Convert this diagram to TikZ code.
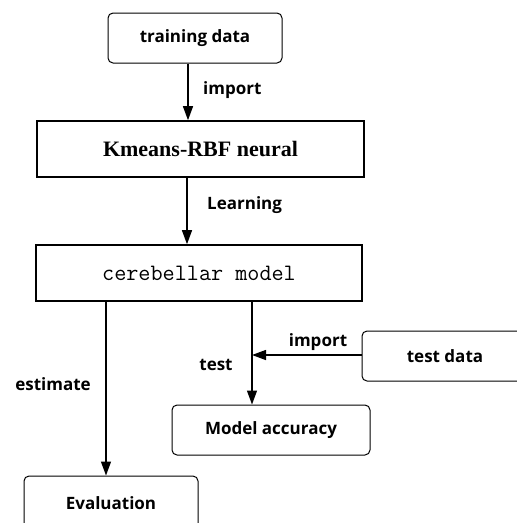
\documentclass[tikz,border=0pt]{standalone}
\usepackage{fontspec}
\setmainfont{Open Sans}
\newfontfamily\serifbf{Liberation Serif}
\usetikzlibrary{arrows.meta}

\tikzset{
  roundbox/.style={draw, line width=1pt, rounded corners=5pt, minimum width=#1, minimum height=50, inner sep=0pt, font=\fontsize{17}{20}\selectfont\bfseries},
  squarebox/.style={draw, line width=1.6pt, minimum width=327, minimum height=56, inner sep=0pt},
  flow/.style={line width=1.3pt, -{Triangle[width=10pt,length=14pt]}},
  lbl/.style={inner sep=0pt, font=\fontsize{17}{20}\selectfont\bfseries}
}

\begin{document}
\begin{tikzpicture}[x=1pt,y=1pt,yscale=-1,xscale=1]
    \useasboundingbox (0,0) rectangle (517,523);
    
    %Shape: Rounded Rect [id:train]
    \node [roundbox=174] (train) at (195,38) {training data};
    %Shape: Rectangle [id:kmeans]
    \node [squarebox, font=\fontsize{22}{26}\selectfont\serifbf\bfseries] (kmeans) at (200.5,149) {Kmeans-RBF neural};
    %Shape: Rectangle [id:cereb]
    \node [squarebox, minimum width=326, font=\fontsize{23.5}{27}\selectfont\ttfamily] (cereb) at (199,273) {cerebellar model};
    %Shape: Rounded Rect [id:testd]
    \node [roundbox=166] (testd) at (445,356) {test data};
    %Shape: Rounded Rect [id:acc]
    \node [roundbox=198] (acc) at (271,430) {Model accuracy};
    %Shape: Rounded Rect [id:eval]
    \node [roundbox=174, minimum height=54] (eval) at (111,503) {Evaluation};
    \coordinate (join) at (252,355);
    
    %Straight Lines
    \draw [flow] (train.south -| 188,0) -- (kmeans.north -| 188,0);
    \draw [flow] (kmeans.south -| 187,0) -- (cereb.north -| 187,0);
    \draw [flow] (cereb.south -| 106,0) -- (eval.north -| 106,0);
    \draw [flow] (cereb.south -| join) -- (acc.north -| join);
    \draw [flow] (testd.west |- join) -- (join);
    
    % Text Node
    \node [lbl, anchor=west] (l1) at (203,90) {import};
    % Text Node
    \node [lbl, anchor=west] (l2) at (207,205) {Learning};
    % Text Node
    \node [lbl] (l3) at (53,384) {estimate};
    % Text Node
    \node [lbl] (l4) at (216,365) {test};
    % Text Node
    \node [lbl] (l5) at (318,342) {import};
    
\end{tikzpicture}
\end{document}
